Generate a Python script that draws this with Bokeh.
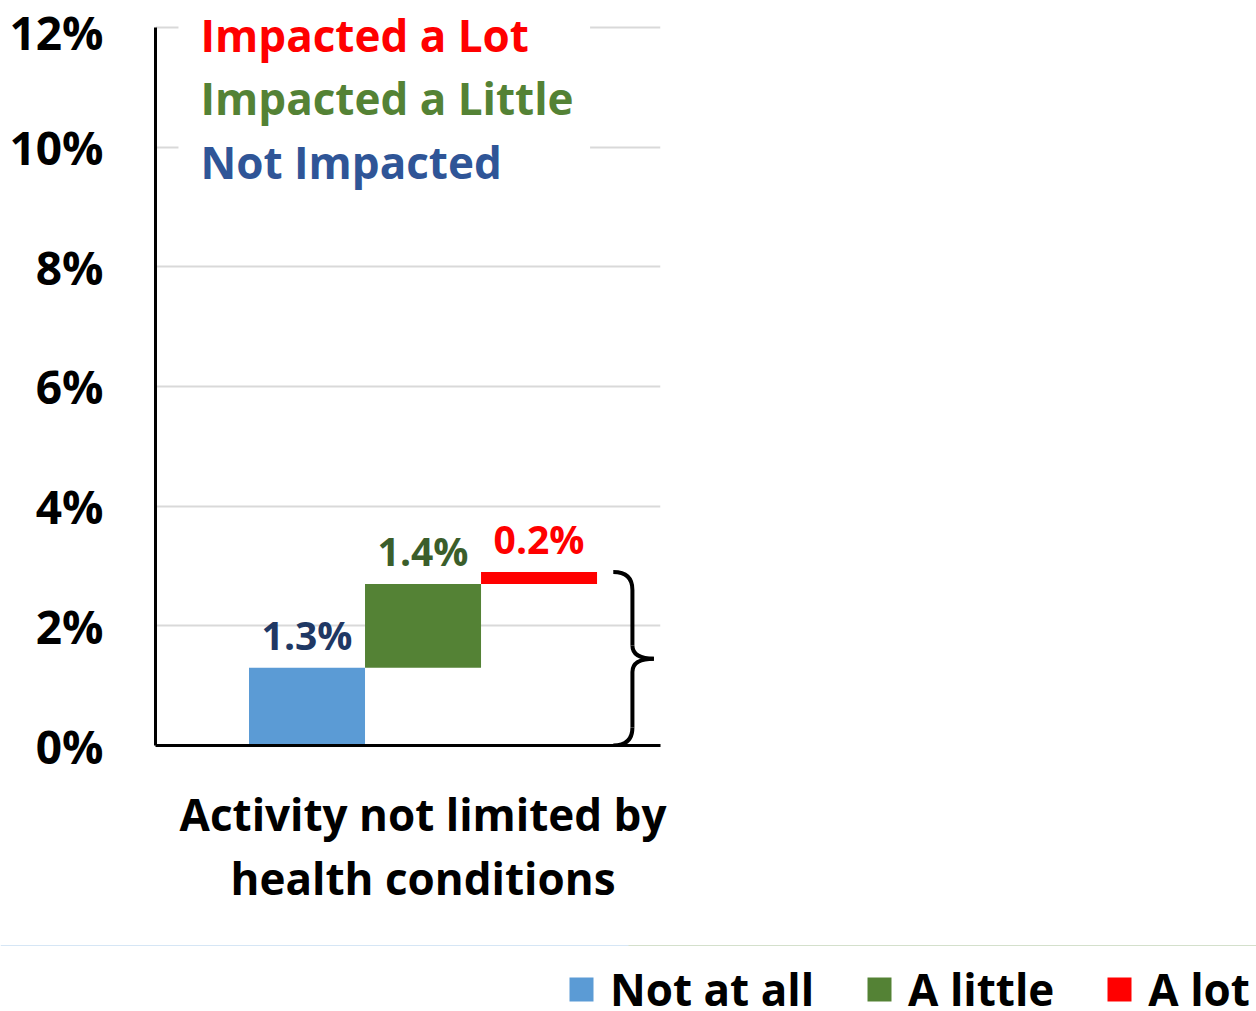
from bokeh.plotting import figure
from bokeh.layouts import column
from bokeh.models import (Range1d, FixedTicker, BoxAnnotation, Label,
                          ColumnDataSource, Grid)
from bokeh.core.properties import value
from bokeh.embed import file_html
from bokeh.resources import INLINE

# ---- data ----
category = "Activity not limited by\nhealth conditions"
series = ["Not at all", "A little", "A lot"]
values = [1.3, 1.4, 0.2]
value_labels = ["1.3%", "1.4%", "0.2%"]
bar_colors = ["#5B9BD5", "#548235", "#FF0000"]
label_colors = ["#1F3864", "#3B5E2B", "#FF0000"]
y_ticks = [0, 2, 4, 6, 8, 10, 12]
y_tick_labels = ["0%", "2%", "4%", "6%", "8%", "10%", "12%"]
titles = ["Impacted a Lot", "Impacted a Little", "Not Impacted"]
title_colors = ["#FF0000", "#548235", "#2F5597"]

FONT = "Open Sans"

# waterfall bases
bottoms = []
acc = 0.0
for v in values:
    bottoms.append(acc)
    acc += v
tops = [b + v for b, v in zip(bottoms, values)]
total = acc
xs = list(range(len(values)))
center = (len(values) - 1) / 2

src = ColumnDataSource(dict(x=xs, bottom=bottoms, top=tops, color=bar_colors,
                            series=series, lab=value_labels, lcol=label_colors))

W, H_MAIN, H_LEG = 1256, 945, 66

p = figure(width=W, height=H_MAIN, x_range=Range1d(-1.306, 3.047),
           y_range=Range1d(0, 12.2), output_backend="svg", toolbar_location=None,
           min_border_left=155, min_border_right=596, min_border_top=15,
           min_border_bottom=H_MAIN - 745)
p.outline_line_color = None
p.background_fill_color = "white"

# grid
p.xgrid.grid_line_color = None
p.ygrid.ticker = FixedTicker(ticks=y_ticks)
p.ygrid.grid_line_color = "#D9D9D9"
p.ygrid.grid_line_width = 2

# y axis
p.yaxis.ticker = FixedTicker(ticks=y_ticks)
p.yaxis.bounds = (min(y_ticks), max(y_ticks))
p.yaxis.major_label_overrides = {t: l for t, l in zip(y_ticks, y_tick_labels)}
p.yaxis.major_tick_line_color = None
p.yaxis.minor_tick_line_color = None
p.yaxis.axis_line_color = "black"
p.yaxis.axis_line_width = 3
p.yaxis.major_label_standoff = 46
p.yaxis.major_label_text_font = FONT
p.yaxis.major_label_text_font_style = "bold"
p.yaxis.major_label_text_font_size = "46px"
p.yaxis.major_label_text_color = "black"

# x axis
p.xaxis.ticker = FixedTicker(ticks=[center])
p.xaxis.major_label_overrides = {center: category}
p.xaxis.major_tick_line_color = None
p.xaxis.minor_tick_line_color = None
p.xaxis.axis_line_color = "black"
p.xaxis.axis_line_width = 3
p.xaxis.major_label_standoff = 32
p.xaxis.major_label_text_font = FONT
p.xaxis.major_label_text_font_style = "bold"
p.xaxis.major_label_text_font_size = "44px"
p.xaxis.major_label_text_line_height = 1.08
p.xaxis.major_label_text_color = "black"

# white panel behind the title block
p.add_layout(BoxAnnotation(left=-1.108, right=2.44, bottom=9.1, top=12.2,
                           fill_color="white", fill_alpha=1.0,
                           line_color=None, level="underlay"))

# bars
p.vbar(x="x", bottom="bottom", top="top", width=1.0, color="color",
       line_color=None, source=src)

# value labels
p.text(x="x", y="top", text="lab", text_color="lcol", source=src,
       text_align="center", text_baseline="alphabetic", y_offset=-33,
       text_font=value(FONT), text_font_size="39px",
       text_font_style="bold")

# brace
x0, xb, xt = len(values) - 0.5 + 0.14, len(values) - 0.5 + 0.305, len(values) - 0.5 + 0.49
mid = total / 2
hk, tp = 0.3, 0.22
p.quadratic(x0=[x0, xb, xt, xb], y0=[total, mid + tp, mid, 0.3],
            x1=[xb, xt, xb, x0], y1=[total - hk, mid, mid - tp, 0],
            cx=[xb, xb, xb, xb], cy=[total, mid, mid, 0],
            line_color="black", line_width=4)
p.segment(x0=[xb, xb], y0=[total - hk, mid - tp], x1=[xb, xb], y1=[mid + tp, 0.3],
          line_color="black", line_width=4)

# titles
for i, (t, c) in enumerate(zip(titles, title_colors)):
    p.add_layout(Label(x=-0.918, y=11.866 - i * 1.053, text=t, text_color=c,
                       text_font=FONT, text_font_style="bold",
                       text_font_size="44px", text_baseline="alphabetic"))

# legend strip below the chart (legend of the same bar series; the bars
# themselves fall outside this strip's range, so only the legend shows)
lf = figure(width=W, height=H_LEG, output_backend="svg", toolbar_location=None,
            x_axis_location=None, y_axis_location=None,
            min_border_left=0, min_border_right=0, min_border_top=0,
            min_border_bottom=0, x_range=Range1d(0, 1), y_range=Range1d(-10, -9))
lf.outline_line_color = None
for g in lf.select(type=Grid):
    g.visible = False
lf.background_fill_alpha = 0
lf.border_fill_alpha = 0
lf.vbar(x="x", bottom="bottom", top="top", width=1.0, color="color",
        line_color=None, legend_field="series", source=src)
for fig in (p, lf):
    if "frame_align" in fig.properties():
        fig.frame_align = False
lg = lf.legend[0]
lg.orientation = "horizontal"
lg.location = (566, -8)
lg.background_fill_alpha = 0
lg.border_line_color = None
lg.glyph_width = 30
lg.glyph_height = 30
lg.label_standoff = 14
lg.spacing = 50
lg.padding = 0
lg.margin = 0
lg.label_text_font = FONT
lg.label_text_font_style = "bold"
lg.label_text_font_size = "44px"
lg.label_text_color = "black"

layout = column(p, lf, spacing=0)
open("out.html", "w").write(file_html(layout, INLINE))
